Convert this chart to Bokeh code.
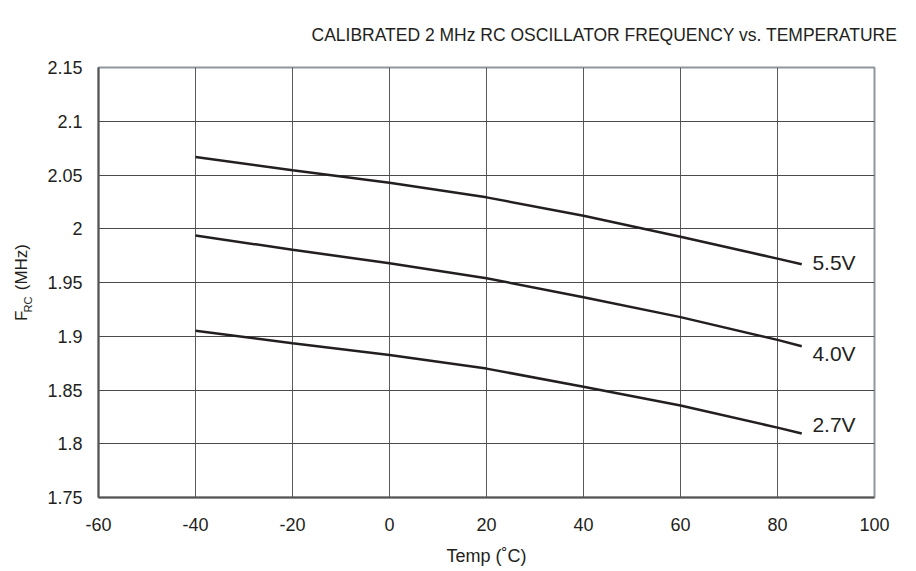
from bokeh.plotting import figure
from bokeh.models import Label, Range1d, FixedTicker, Title
from bokeh.embed import file_html
from bokeh.resources import INLINE

# ---- data ----
temps = [-40, -20, 0, 20, 40, 60, 80, 85]
f_55 = [2.0668, 2.0544, 2.0428, 2.0292, 2.0121, 1.9925, 1.9722, 1.9670]
f_40 = [1.9938, 1.9804, 1.9680, 1.9540, 1.9363, 1.9178, 1.8966, 1.8907]
f_27 = [1.9052, 1.8935, 1.8826, 1.8699, 1.8531, 1.8355, 1.8150, 1.8095]
series_names = ["5.5V", "4.0V", "2.7V"]
series_label_y = [1.969, 1.884, 1.818]

x_ticks = [-60, -40, -20, 0, 20, 40, 60, 80, 100]
x_tick_labels = ["-60", "-40", "-20", "0", "20", "40", "60", "80", "100"]
y_ticks = [1.75, 1.8, 1.85, 1.9, 1.95, 2.0, 2.05, 2.1, 2.15]
y_tick_labels = ["1.75", "1.8", "1.85", "1.9", "1.95", "2", "2.05", "2.1", "2.15"]

title_text = "CALIBRATED 2 MHz RC OSCILLATOR FREQUENCY vs. TEMPERATURE"
x_label = "Temp (\u02daC)"

FONT = "Liberation Sans"
TXT = "#231f20"

p = figure(frame_width=776, frame_height=430, output_backend="svg",
           toolbar_location=None, x_range=Range1d(-60, 100),
           y_range=Range1d(1.75, 2.15),
           min_border_left=98, min_border_top=67, min_border_right=34,
           min_border_bottom=66)

p.background_fill_color = "white"
p.border_fill_color = "white"
p.outline_line_color = "#8f979e"
p.outline_line_width = 2

p.title.text = title_text
p.title.align = "left"
p.title.offset = 213
p.title.vertical_align = "top"
p.title.standoff = 41
p.title.text_font = FONT
p.title.text_font_size = "17.5px"
p.title.text_font_style = "normal"
p.title.text_color = TXT

for ax in (p.xaxis[0], p.yaxis[0]):
    ax.axis_line_color = "#555555"
    ax.axis_line_width = 2
    ax.major_tick_out = 0
    ax.major_tick_in = 0
    ax.minor_tick_out = 0
    ax.minor_tick_in = 0
    ax.major_label_text_font = FONT
    ax.major_label_text_font_size = "18px"
    ax.major_label_text_color = TXT
    ax.axis_label_text_font = FONT
    ax.axis_label_text_font_style = "normal"
    ax.axis_label_text_color = TXT

p.xaxis.ticker = FixedTicker(ticks=x_ticks)
p.yaxis.ticker = FixedTicker(ticks=y_ticks)
p.xaxis.major_label_overrides = {t: s for t, s in zip(x_ticks, x_tick_labels)}
p.yaxis.major_label_overrides = {t: s for t, s in zip(y_ticks, y_tick_labels)}
p.xaxis.major_label_standoff = 20
p.yaxis.major_label_standoff = 16
p.xaxis.axis_label = x_label
p.xaxis.axis_label_text_font_size = "18px"
p.xaxis.axis_label_standoff = 12

p.xgrid.grid_line_color = "#5a5a5a"
p.ygrid.grid_line_color = "#4a4a4a"
p.xgrid.grid_line_width = 1
p.ygrid.grid_line_width = 1

for ys in (f_55, f_40, f_27):
    p.line(temps, ys, line_color=TXT, line_width=2.5)

for name, ly in zip(series_names, series_label_y):
    p.add_layout(Label(x=87.2, y=ly, text=name, text_font=FONT,
                       text_font_size="21px", text_color=TXT,
                       text_align="left", text_baseline="middle"))

# y axis label: F_RC (MHz) built from two side titles
p.add_layout(Title(text="RC", align="left", offset=185, standoff=22,
                   text_font=FONT, text_font_size="11px",
                   text_font_style="normal", text_color=TXT), "left")
p.add_layout(Title(text="F\u2003\u2009(MHz)", align="center", standoff=-44,
                   text_font=FONT, text_font_size="17px",
                   text_font_style="normal", text_color=TXT), "left")

open("out.html", "w").write(file_html(p, INLINE))
